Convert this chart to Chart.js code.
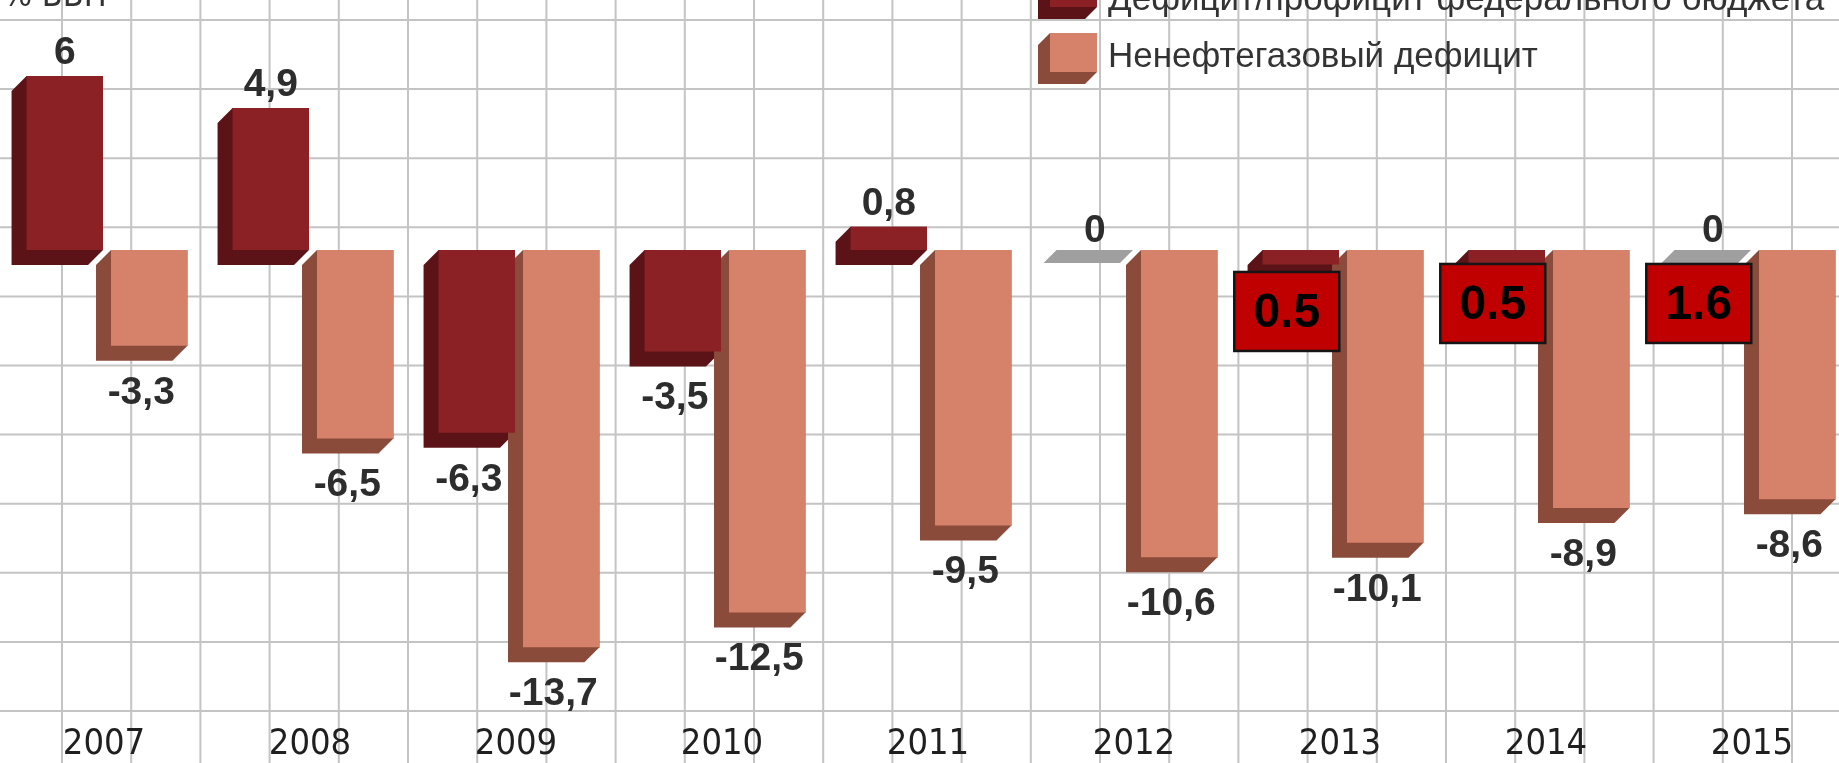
<!DOCTYPE html>
<html>
<head>
<meta charset="utf-8">
<script src="https://cdn.jsdelivr.net/npm/chart.js@4.4.1/dist/chart.umd.min.js"></script>
<style>
  html, body { margin: 0; padding: 0; background: #fff; overflow: hidden; }
  #wrap { width: 1839px; height: 763px; overflow: hidden; position: relative; }
  canvas { position: absolute; left: 0; top: 0; }
</style>
</head>
<body>
<div id="wrap"><canvas id="chart" width="1866" height="763"></canvas></div>
<script>
// данные, % ВВП
const years = ['2007', '2008', '2009', '2010', '2011', '2012', '2013', '2014', '2015'];
const federalBalance = [6, 4.9, -6.3, -3.5, 0.8, 0, -0.5, -0.5, 0];
const nonOilGasDeficit = [-3.3, -6.5, -13.7, -12.5, -9.5, -10.6, -10.1, -8.9, -8.6];
const seriesNames = ['Дефицит/профицит федерального бюджета', 'Ненефтегазовый дефицит'];
const unitLabel = '% ВВП';
// красные наклейки поверх графика
const noteYears = ['2013', '2014', '2015'];
const noteValues = ['0.5', '0.5', '1.6'];

const narrow = '"Liberation Sans Narrow", "DejaVu Sans Condensed", Arial, sans-serif';
const sans = '"Liberation Sans", Arial, sans-serif';
const frontColors = ['#8c2125', '#d6816a'];
const sideColors = ['#5c1317', '#8a4b3b'];
const depth = 15;

function fmt(v) {
  return String(v).replace('.', ',');
}

function extrude(ctx, x1, x2, top, bottom, d, color) {
  ctx.fillStyle = color;
  ctx.beginPath();
  ctx.moveTo(x1, top);
  ctx.lineTo(x2, top);
  ctx.lineTo(x2, bottom);
  ctx.lineTo(x2 - d, bottom + d);
  ctx.lineTo(x1 - d, bottom + d);
  ctx.lineTo(x1 - d, top + d);
  ctx.closePath();
  ctx.fill();
}

// клетчатый фон
const paperPlugin = {
  id: 'paper',
  beforeDraw(chart) {
    const ctx = chart.ctx;
    const w = chart.width, h = chart.height;
    ctx.save();
    ctx.fillStyle = '#fff';
    ctx.fillRect(0, 0, w, h);
    ctx.strokeStyle = '#c4c4c4';
    ctx.lineWidth = 2;
    ctx.beginPath();
    for (let x = 62 - 69.2; x < w; x += 69.2) {
      ctx.moveTo(x, 0);
      ctx.lineTo(x, h);
    }
    for (let y = 20; y < h; y += 69.1) {
      ctx.moveTo(0, y);
      ctx.lineTo(w, y);
    }
    ctx.stroke();
    ctx.restore();
  }
};

// объём столбцов, подписи, наклейки, легенда
const boxPlugin = {
  id: 'box3d',
  beforeDatasetsDraw(chart) {
    const ctx = chart.ctx;
    const zero = chart.scales.y.getPixelForValue(0);
    ctx.save();
    years.forEach((yr, i) => {
      chart.data.datasets.forEach((ds, di) => {
        const el = chart.getDatasetMeta(di).data[i];
        const x1 = el.x - el.width / 2, x2 = el.x + el.width / 2;
        if (ds.data[i] === 0) {
          ctx.fillStyle = '#9f9f9f';
          ctx.beginPath();
          ctx.moveTo(x1, zero);
          ctx.lineTo(x2, zero);
          ctx.lineTo(x2 - depth + 2, zero + depth - 2);
          ctx.lineTo(x1 - depth + 2, zero + depth - 2);
          ctx.closePath();
          ctx.fill();
          return;
        }
        const top = Math.min(el.y, el.base), bottom = Math.max(el.y, el.base);
        extrude(ctx, x1, x2, top, bottom, depth, sideColors[di]);
      });
    });
    ctx.restore();
  },
  afterDatasetsDraw(chart) {
    const ctx = chart.ctx;
    const zero = chart.scales.y.getPixelForValue(0);
    ctx.save();
    ctx.fillStyle = '#2d2d2d';
    ctx.font = 'bold 39px ' + sans;
    ctx.textAlign = 'center';
    ctx.textBaseline = 'alphabetic';
    chart.data.datasets.forEach((ds, di) => {
      chart.getDatasetMeta(di).data.forEach((el, i) => {
        const v = ds.data[i];
        if (v > 0) ctx.fillText(fmt(v), el.x, el.y - 12);
        else if (v === 0) ctx.fillText('0', el.x, zero - 8);
        else ctx.fillText(fmt(v), el.x - 8, el.y + 58);
      });
    });

    // наклейки
    const tops = [22, 14, 14];
    noteYears.forEach((yr, k) => {
      const el = chart.getDatasetMeta(0).data[years.indexOf(yr)];
      const bw = 105, bh = 79;
      const bx = el.x - 14 - bw / 2, by = zero + tops[k];
      ctx.fillStyle = '#c00000';
      ctx.fillRect(bx, by, bw, bh);
      ctx.strokeStyle = '#151515';
      ctx.lineWidth = 2.5;
      ctx.strokeRect(bx, by, bw, bh);
      ctx.fillStyle = '#000';
      ctx.font = 'bold 48px ' + sans;
      ctx.textBaseline = 'middle';
      ctx.fillText(noteValues[k], bx + bw / 2, by + bh / 2 + 2);
    });
    ctx.restore();
  },
  afterDraw(chart) {
    const ctx = chart.ctx;
    ctx.save();
    // легенда
    const rows = [{ top: -40, bottom: 7, base: 10 }, { top: 33, bottom: 72, base: 67 }];
    rows.forEach((r, di) => {
      extrude(ctx, 1050, 1097, r.top, r.bottom, 12, sideColors[di]);
      ctx.fillStyle = frontColors[di];
      ctx.fillRect(1050, r.top, 47, r.bottom - r.top);
      ctx.fillStyle = '#333';
      ctx.font = '35px ' + sans;
      ctx.textAlign = 'left';
      ctx.textBaseline = 'alphabetic';
      ctx.fillText(chart.data.datasets[di].label, 1108, r.base);
    });
    ctx.fillStyle = '#333';
    ctx.font = '34px ' + narrow;
    ctx.fillText(unitLabel, 3, 6);
    ctx.restore();
  }
};

new Chart(document.getElementById('chart'), {
  type: 'bar',
  data: {
    labels: years,
    datasets: [
      { label: seriesNames[0], data: federalBalance, backgroundColor: frontColors[0], borderWidth: 0 },
      { label: seriesNames[1], data: nonOilGasDeficit, backgroundColor: frontColors[1], borderWidth: 0 }
    ]
  },
  options: {
    responsive: false,
    animation: false,
    devicePixelRatio: 1,
    layout: { padding: { left: 4, right: 8, top: 0, bottom: 0 } },
    datasets: { bar: { categoryPercentage: 0.82, barPercentage: 0.905 } },
    plugins: { legend: { display: false }, tooltip: { enabled: false } },
    scales: {
      x: {
        grid: { display: false, drawTicks: false },
        border: { display: false },
        ticks: {
          padding: 0,
          labelOffset: -3,
          color: '#1f1f1f',
          font: { family: narrow, size: 36, lineHeight: 1.0 }
        }
      },
      y: { display: false, min: -16.45, max: 8.62 }
    }
  },
  plugins: [paperPlugin, boxPlugin]
});
</script>
</body>
</html>
